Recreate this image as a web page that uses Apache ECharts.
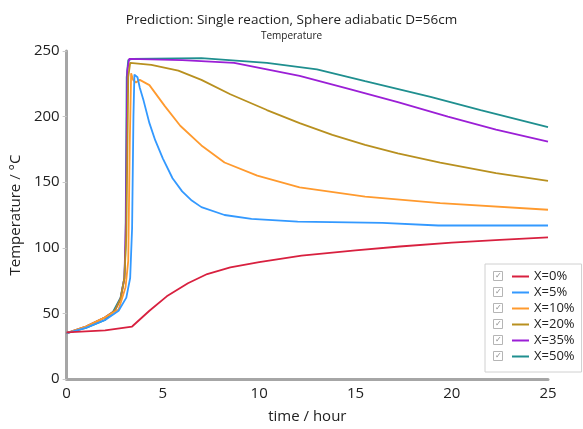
<!DOCTYPE html>
<html>
<head>
<meta charset="utf-8">
<script src="https://cdn.jsdelivr.net/npm/echarts@6/dist/echarts.min.js"></script>
<style>
  html, body { margin: 0; padding: 0; background: #fff; }
  #chart { width: 583px; height: 429px; }
</style>
</head>
<body>
<div id="chart"></div>
<script>
const seriesNames = ['X=0%', 'X=5%', 'X=10%', 'X=20%', 'X=35%', 'X=50%'];
const seriesColors = ['#d8203f', '#3399ff', '#ff9a2e', '#b8901f', '#9b1fd6', '#1f8f8f'];

// time (hour) / temperature (°C)
const time0 = [0, 2, 3.4, 4.3, 5.2, 6.3, 7.3, 8.5, 10, 12.2, 15, 17.3, 20, 22.5, 25];
const temp0 = [35.5, 37, 40, 52, 63, 73, 80, 85, 89, 94, 98, 101, 104, 106, 108];

const time5 = [0, 1, 2, 2.7, 3.1, 3.3, 3.4, 3.47, 3.52, 3.6, 3.68, 3.8, 4.0, 4.3, 4.6, 5.0, 5.5, 6.0, 6.5, 7.0, 8.2, 9.6, 12, 16.4, 19.3, 25];
const temp5 = [35, 39, 45, 52, 62, 77, 115, 200, 232, 233, 230, 222, 212, 195, 182, 168, 153, 143, 136, 131, 125, 122, 120, 119, 117, 117];

const time10 = [0, 1, 2, 2.7, 3.06, 3.2, 3.28, 3.35, 3.45, 3.6, 3.8, 4.3, 5.1, 5.9, 7, 8.2, 9.9, 12.1, 15.5, 19.4, 25];
const temp10 = [35, 40, 47, 53, 70, 90, 180, 233, 228, 226, 228, 224, 208, 193, 178, 165, 155, 146, 139, 134, 129];

const time20 = [0, 1, 2, 2.5, 2.8, 3.0, 3.1, 3.2, 3.3, 4.4, 5.8, 7, 8.5, 10.4, 12.1, 13.8, 15.5, 17.2, 19.4, 22.3, 25];
const temp20 = [35, 40, 47, 52, 61, 77, 110, 230, 241, 239.5, 235, 228, 217, 205, 195, 186, 178.5, 172, 165, 157, 151];

const time35 = [0, 1, 2, 2.5, 2.8, 3.0, 3.08, 3.15, 3.25, 6, 8.7, 10.4, 12.1, 14.7, 17.2, 19.8, 22.3, 25];
const temp35 = [35, 40, 47, 52, 61, 77, 120, 235, 244, 243, 241, 236, 231, 221, 211, 200, 190, 181];

const time50 = [0, 1, 2, 2.4, 2.8, 3.0, 3.06, 3.12, 3.2, 3.4, 7, 10.4, 13, 15.5, 18.9, 21.5, 25];
const temp50 = [35, 39, 45, 51, 62, 77, 102, 230, 243, 244, 244.5, 241, 236, 227, 215, 205, 192];

const xTicks = [0, 5, 10, 15, 20, 25];
const yTicks = [0, 50, 100, 150, 200, 250];

const allTimes = [time0, time5, time10, time20, time35, time50];
const allTemps = [temp0, temp5, temp10, temp20, temp35, temp50];

const font = '"Open Sans", "Noto Sans", sans-serif';
const chart = echarts.init(document.getElementById('chart'));

// legend box geometry, the checkboxes sit next to it
const legendLeft = 485;
const legendTop = 264;
const legendPadTop = 6;
const itemStep = 16;

const checkboxes = seriesNames.map((name, i) => ({
  type: 'group',
  left: legendLeft + 8,
  top: legendTop + legendPadTop + i * itemStep + 1,
  z: 100,
  children: [
    { type: 'rect', z: 100, shape: { x: 0, y: 0, width: 9, height: 9 },
      style: { fill: '#fff', stroke: '#b5b5b5', lineWidth: 1 } },
    { type: 'text', z: 101, x: 1.5, y: 0.5,
      style: { text: '✓', fill: '#8c8c8c', font: '8px "DejaVu Sans"' } }
  ]
}));

const option = {
  animation: false,
  backgroundColor: '#fff',
  title: {
    text: 'Prediction: Single reaction, Sphere adiabatic D=56cm',
    subtext: 'Temperature',
    left: 'center',
    top: 8,
    itemGap: 4,
    textStyle: { fontFamily: font, fontSize: 13.5, fontWeight: 'normal', color: '#222' },
    subtextStyle: { fontFamily: font, fontSize: 10, color: '#222' }
  },
  legend: {
    orient: 'vertical',
    left: legendLeft,
    top: legendTop,
    padding: [legendPadTop, 7, 9, 27],
    itemGap: 3,
    itemWidth: 17,
    itemHeight: 2,
    icon: 'rect',
    borderColor: '#d0d0d0',
    borderWidth: 1,
    borderRadius: 0,
    textStyle: { fontFamily: font, fontSize: 13, color: '#222', lineHeight: 13 },
    data: seriesNames
  },
  grid: { left: 64, right: 35, top: 51, bottom: 47 },
  xAxis: {
    type: 'value',
    min: 0,
    max: 25,
    interval: 5,
    name: 'time / hour',
    nameLocation: 'middle',
    nameGap: 30,
    nameTextStyle: { fontFamily: font, fontSize: 15, color: '#222' },
    axisLine: { lineStyle: { color: '#a6a6a6', width: 3 } },
    axisTick: { show: false },
    axisLabel: {
      fontFamily: font, fontSize: 15, color: '#222', margin: 7,
      customValues: xTicks
    },
    splitLine: { show: false }
  },
  yAxis: {
    type: 'value',
    min: 0,
    max: 250,
    interval: 50,
    name: 'Temperature / °C',
    nameLocation: 'middle',
    nameGap: 35,
    nameTextStyle: { fontFamily: font, fontSize: 15, color: '#222' },
    axisLine: { show: true, lineStyle: { color: '#a6a6a6', width: 3 } },
    axisTick: { show: true, length: 4, lineStyle: { color: '#c8c8c8', width: 1 } },
    axisLabel: {
      fontFamily: font, fontSize: 15, color: '#222', margin: 7,
      customValues: yTicks
    },
    splitLine: { show: false }
  },
  graphic: { elements: checkboxes },
  series: seriesNames.map((name, i) => ({
    name,
    type: 'line',
    color: seriesColors[i],
    showSymbol: false,
    symbol: 'none',
    lineStyle: { width: 1.8, color: seriesColors[i] },
    data: allTimes[i].map((t, k) => [t, allTemps[i][k]])
  })).reverse()
};

chart.setOption(option);
</script>
</body>
</html>
